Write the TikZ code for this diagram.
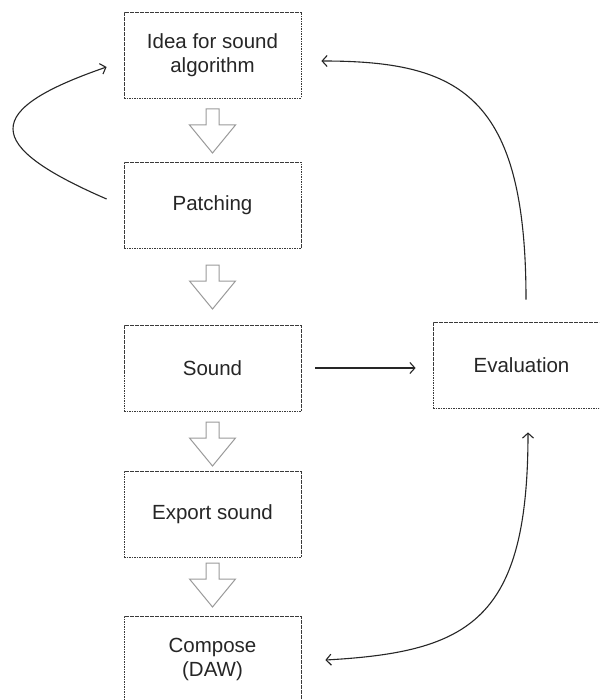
\documentclass[tikz,border=0pt]{standalone}
\usepackage{fontspec}
\setmainfont{Liberation Sans}
\usetikzlibrary{arrows.meta,calc}
\definecolor{ink}{HTML}{262626}
\definecolor{boxline}{HTML}{3A3A3A}
\definecolor{blockgray}{HTML}{9A9A9A}

% hollow block arrow pointing down: #1 = centre x, #2 = top of shaft
\newcommand{\hollowdown}[2]{%
  \draw[blockarrow] (#1-6.5,#2) -- (#1+6.5,#2) -- (#1+6.5,#2+16) -- (#1+23,#2+16)
    -- (#1,#2+44) -- (#1-23,#2+16) -- (#1-6.5,#2+16) -- cycle;}

\begin{document}
\begin{tikzpicture}[x=1pt,y=-1pt,
  stage/.style={draw=boxline, line width=0.8pt, dash pattern=on 1.6pt off 0.9pt,
    minimum width=177pt, minimum height=86pt, align=center, text=ink,
    font=\fontsize{20.5}{24}\selectfont, inner sep=0pt},
  blockarrow/.style={draw=blockgray, line width=1pt, fill=white, line join=miter},
  flow/.style={draw=ink, line width=1.1pt, -{Straight Barb[length=5pt,width=11pt]}},
  twoway/.style={draw=ink, line width=1.1pt,
    {Straight Barb[length=5pt,width=11pt]}-{Straight Barb[length=5pt,width=11pt]}}]

\useasboundingbox (0,0) rectangle (599,700);
\clip (0,0) rectangle (599,700);
\fill[white] (0,0) rectangle (599,700);

% stages of the workflow
\node[stage] (idea)    at (212.5,55)  {Idea for sound\\algorithm};
\node[stage] (patch)   at (212.5,205.5) {Patching};
\node[stage] (sound)   at (212.5,368) {Sound};
\node[stage] (export)  at (212.5,514) {Export sound};
\node[stage] (compose) at (212.5,659) {Compose\\(DAW)};
\node[stage] (eval)    at (521.5,365) {Evaluation};

% downward block arrows between stages
\hollowdown{212.5}{109}
\hollowdown{212.5}{265}
\hollowdown{212.5}{422}
\hollowdown{212.5}{563}

% free ends of the connectors
\coordinate (loopS) at ([xshift=-17pt,yshift=6.5pt]patch.west);
\coordinate (loopE) at ([xshift=-17pt,yshift=-12pt]idea.west);
\coordinate (backS) at ([xshift=4.5pt,yshift=22pt]eval.north);
\coordinate (backE) at ([xshift=20pt,yshift=-6pt]idea.east);
\coordinate (compS) at ([xshift=6.5pt,yshift=-24pt]eval.south);
\coordinate (compE) at ([xshift=24pt,yshift=-1pt]compose.east);

% patching loops back to the idea
\draw[flow] (loopS) .. controls (-18,145) and (-18,110) .. (loopE);
% sound goes to evaluation
\draw[flow, shorten <=14pt, shorten >=17pt] (sound.east) -- (sound.east -| eval.west);
% evaluation feeds back to the idea
\draw[flow] (backS) .. controls (526,95) and (460,61) .. (backE);
% evaluation and composing inform each other
\draw[twoway] (compS) .. controls (528,620) and (470,652) .. (compE);

\end{tikzpicture}
\end{document}
